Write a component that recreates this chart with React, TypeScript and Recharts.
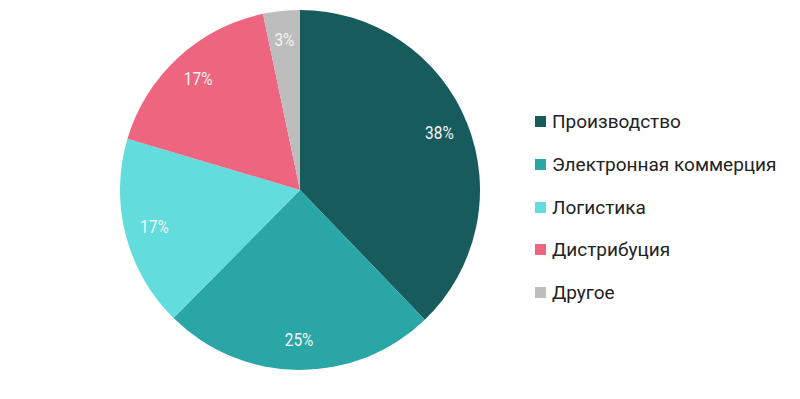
import React from "react";
import { PieChart, Pie, Cell } from "recharts";

const categories = ["Производство", "Электронная коммерция", "Логистика", "Дистрибуция", "Другое"];
const shares = [37.8, 24.6, 17.2, 17.1, 3.3];
const labels = ["38%", "25%", "17%", "17%", "3%"];
const colors = ["#175b5d", "#2aa6a6", "#62dcdc", "#ee6580", "#bdbdbd"];

const data = categories.map((name, i) => ({ name, value: shares[i], label: labels[i] }));

const RAD = Math.PI / 180;

const textWidth = (s: string, fs: number) => {
  let w = 0;
  for (const ch of s) w += ch === "%" ? 0.73 : 0.562;
  return w * fs * 0.86;
};

const renderLabel = (props: any) => {
  const { cx, cy, midAngle, outerRadius, index } = props;
  const r = outerRadius * 0.835;
  const x = cx + r * Math.cos(-midAngle * RAD);
  const y = cy + r * Math.sin(-midAngle * RAD) - 1;
  const txt = labels[index];
  const fs = 18;
  return (
    <text
      x={x}
      y={y}
      fill="#f4f4f4"
      textAnchor="middle"
      dominantBaseline="central"
      fontFamily="Roboto"
      fontSize={fs}
      textLength={textWidth(txt, fs)}
      lengthAdjust="spacingAndGlyphs"
    >
      {txt}
    </text>
  );
};

const LegendBlock = () => (
  <div
    style={{
      position: "absolute",
      left: 535,
      top: 100.5,
      width: 265,
      fontFamily: "Roboto",
      fontSize: 19,
      color: "#222",
      whiteSpace: "nowrap",
    }}
  >
    {categories.map((c, i) => (
      <div key={c} style={{ display: "flex", alignItems: "center", height: 42.7 }}>
        <span
          style={{
            display: "inline-block",
            flex: "0 0 11px",
            width: 11,
            height: 11,
            background: colors[i],
            marginRight: 6,
          }}
        />
        <span>{c}</span>
      </div>
    ))}
  </div>
);

export default function App() {
  return (
    <div style={{ position: "absolute", left: 0, top: 0, width: 800, height: 399, background: "#fff" }}>
      <PieChart width={800} height={399} margin={{ top: 0, right: 0, bottom: 0, left: 0 }}>
        <Pie
          data={data}
          dataKey="value"
          nameKey="name"
          cx={300}
          cy={190}
          outerRadius={180}
          startAngle={90}
          endAngle={-270}
          stroke="none"
          label={renderLabel}
          labelLine={false}
          isAnimationActive={false}
        >
          {data.map((d, i) => (
            <Cell key={d.name} fill={colors[i]} />
          ))}
        </Pie>
      </PieChart>
      <LegendBlock />
    </div>
  );
}
